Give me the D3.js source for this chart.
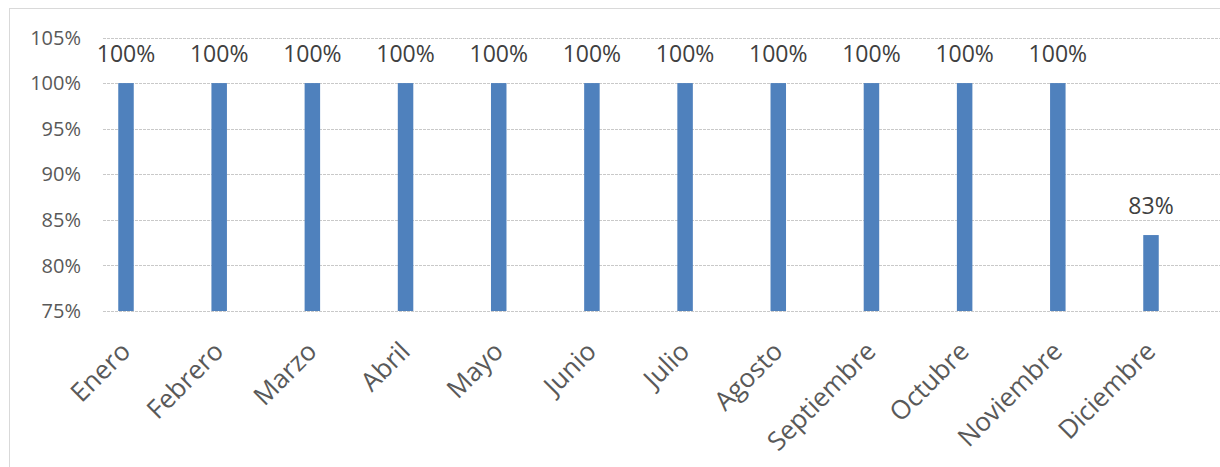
<!DOCTYPE html>
<html>
<head>
<meta charset="utf-8">
<script src="https://cdn.jsdelivr.net/npm/d3@7"></script>
<style>
  body { margin: 0; background: #fff; }
  svg { display: block; font-family: "Open Sans", sans-serif; }
</style>
</head>
<body>
<svg id="chart" width="1220" height="467"></svg>
<script>
// months and the monthly percentage
var months = ["Enero", "Febrero", "Marzo", "Abril", "Mayo", "Junio", "Julio",
              "Agosto", "Septiembre", "Octubre", "Noviembre", "Diciembre"];
var values = [1, 1, 1, 1, 1, 1, 1, 1, 1, 1, 1, 0.8333];
var yTicks = [0.75, 0.80, 0.85, 0.90, 0.95, 1.00, 1.05];

var svg = d3.select("#chart");

// outer chart border
svg.append("rect")
    .attr("x", 9.5).attr("y", 8.5)
    .attr("width", 1230).attr("height", 480)
    .attr("fill", "#fff")
    .attr("stroke", "#d9d9d9");

var plotLeft = 103, plotRight = 1220;

var x = d3.scalePoint()
    .domain(months)
    .range([126, 1151]);

var y = d3.scaleLinear()
    .domain([0.75, 1.05])
    .range([311, 37.5]);

var fmt = d3.format(".0%");

// gridlines
svg.append("g")
    .selectAll("line")
    .data(yTicks)
    .enter()
    .append("line")
    .attr("x1", plotLeft)
    .attr("x2", plotRight)
    .attr("y1", d => Math.round(y(d)) + 0.5)
    .attr("y2", d => Math.round(y(d)) + 0.5)
    .attr("stroke", "#c9c9c9")
    .attr("stroke-dasharray", "3,1");

// y labels
svg.append("g")
    .selectAll("text")
    .data(yTicks)
    .enter()
    .append("text")
    .attr("x", 81)
    .attr("y", d => y(d))
    .attr("dy", "0.36em")
    .attr("text-anchor", "end")
    .attr("font-size", 20)
    .attr("fill", "#595959")
    .text(d => fmt(d));

var barW = 15.5;

// bars
svg.append("g")
    .selectAll("rect")
    .data(values)
    .enter()
    .append("rect")
    .attr("x", (d, i) => x(months[i]) - barW / 2)
    .attr("y", d => y(d))
    .attr("width", barW)
    .attr("height", d => y(0.75) - y(d))
    .attr("fill", "#4f81bd");

// value labels
svg.append("g")
    .selectAll("text")
    .data(values)
    .enter()
    .append("text")
    .attr("x", (d, i) => x(months[i]))
    .attr("y", d => y(d) - 21)
    .attr("text-anchor", "middle")
    .attr("font-size", 23)
    .attr("fill", "#404040")
    .text(d => fmt(d));

// month labels, rotated
svg.append("g")
    .selectAll("text")
    .data(months)
    .enter()
    .append("text")
    .attr("transform", d => "translate(" + (x(d) + 6) + ",353) rotate(-45)")
    .attr("text-anchor", "end")
    .attr("font-size", 26)
    .attr("fill", "#595959")
    .text(d => d);
</script>
</body>
</html>
